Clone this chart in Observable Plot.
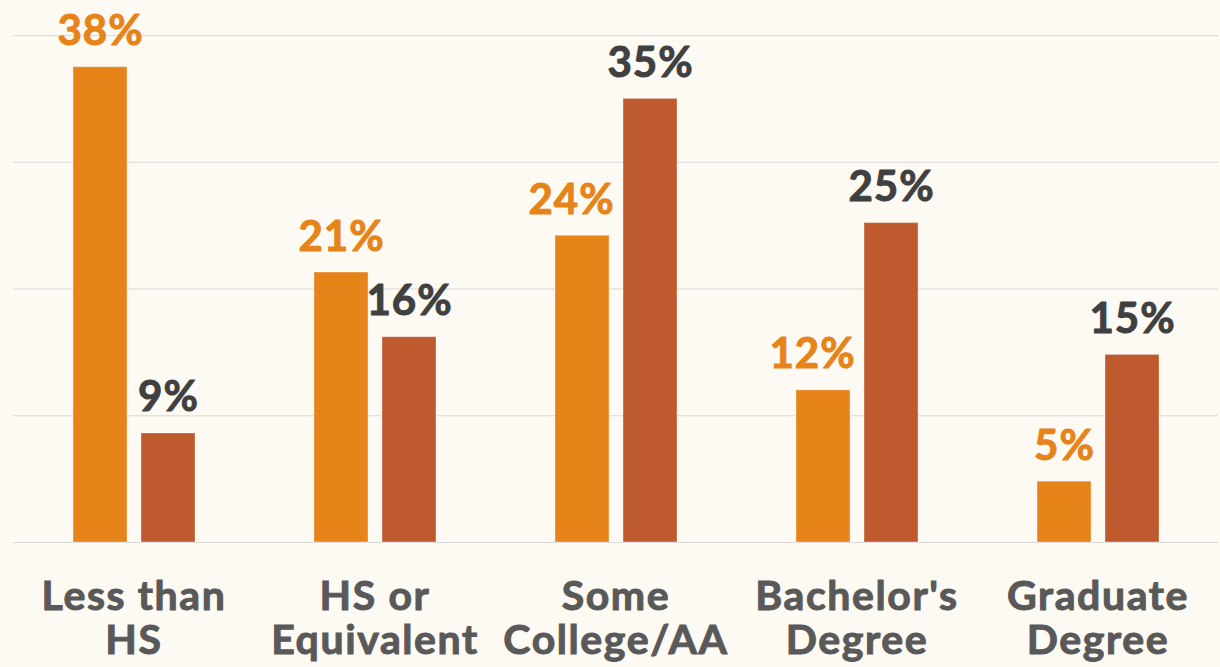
<!DOCTYPE html>
<html>
<head>
<meta charset="utf-8">
<script src="https://cdn.jsdelivr.net/npm/d3@7"></script>
<script src="https://cdn.jsdelivr.net/npm/@observablehq/plot@0.6"></script>
<style>
  html, body { margin: 0; padding: 0; background: #FDF9F3; }
  #chart { width: 1220px; height: 667px; overflow: hidden; }
  #chart svg text { letter-spacing: 1px; }
  #chart svg g[aria-label="fx-axis tick label"] text {
    letter-spacing: 1.6px; stroke: #595959; stroke-width: 1px; paint-order: stroke;
  }
</style>
</head>
<body>
<div id="chart"></div>
<script>
const categories = ["Less than HS", "HS or Equivalent", "Some College/AA", "Bachelor's Degree", "Graduate Degree"];
const tickLabels = ["Less than\nHS", "HS or\nEquivalent", "Some\nCollege/AA", "Bachelor's\nDegree", "Graduate\nDegree"];
const series = ["Series 1", "Series 2"];
const series1Values = [37.5, 21.3, 24.2, 12.0, 4.8];
const series2Values = [8.6, 16.2, 35.0, 25.2, 14.8];
const yTicks = [0, 10, 20, 30, 40];

const barColors = ["#E6841A", "#BE5A2D"];
const labelColors = ["#E6841A", "#404040"];

const rows = [];
categories.forEach((c, i) => {
  rows.push({category: c, series: series[0], value: series1Values[i], other: series2Values[i]});
  rows.push({category: c, series: series[1], value: series2Values[i], other: series1Values[i]});
});

const font = "Lato, 'Open Sans', sans-serif";
// a two-digit first-series label next to a taller bar is nudged left to clear it
const nudged = d => d.series === series[0] && d.other > d.value && Math.round(d.value) >= 10;

const labelMark = (filter, k, dx) => Plot.text(rows.filter(filter), {
  fx: "category", x: "series", y: "value",
  text: d => Math.round(d.value) + "%",
  dy: -22, dx, lineAnchor: "bottom",
  fill: labelColors[k], stroke: labelColors[k], strokeWidth: 1,
  fontSize: 42, fontWeight: "bold", fontFamily: font
});

const chart = Plot.plot({
  width: 1220,
  height: 667,
  marginTop: 35,
  marginBottom: 125,
  marginLeft: 11,
  marginRight: 0,
  style: {background: "transparent", fontFamily: font, overflow: "visible"},
  fx: {domain: categories, padding: 0},
  x: {domain: series, paddingInner: 0.212, paddingOuter: 0.871, axis: null},
  y: {domain: [0, 40], axis: null},
  color: {domain: series, range: barColors},
  marks: [
    Plot.gridY(yTicks, {stroke: "#D9D9D9", strokeOpacity: 1, strokeWidth: 1.2}),
    Plot.barY(rows, {fx: "category", x: "series", y: "value", fill: "series", stroke: "#FFFFFF", strokeOpacity: 0.35, strokeWidth: 1}),
    labelMark(d => d.series === series[0] && !nudged(d), 0, 0),
    labelMark(d => nudged(d), 0, -11),
    labelMark(d => d.series === series[1], 1, 0),
    Plot.axisFx({
      anchor: "bottom", label: null, tickSize: 0, tickPadding: 36,
      tickFormat: c => tickLabels[categories.indexOf(c)],
      fontSize: 41, fontWeight: "bold", lineHeight: 1.08, color: "#595959", fontFamily: font
    })
  ]
});
document.getElementById("chart").appendChild(chart);
</script>
</body>
</html>
